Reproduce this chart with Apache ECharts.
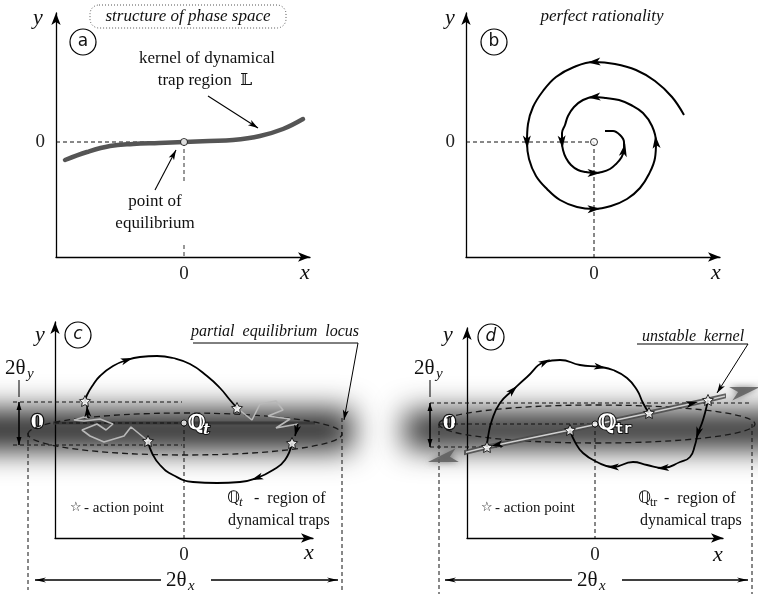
<!DOCTYPE html>
<html>
<head>
<meta charset="utf-8">
<script src="https://cdn.jsdelivr.net/npm/echarts@6.0.0/dist/echarts.min.js"></script>
<style>
html,body{margin:0;padding:0;background:#fff;}
#chart{width:758px;height:594px;}
</style>
</head>
<body>
<div id="chart"></div>
<script>
// ---------------- tick labels ----------------
const tickValues = [0];
const tickLabels = ['0'];

// ---------------- panel (a) structure of phase space ----------------
const aKernelX = [-119,-97,-74,-51,-25,0,25,49,76,99,119];
const aKernelY = [-18,-10,-4,-2,-1,0,1,2,6,13,23];
const aEquilibriumX = [0];
const aEquilibriumY = [0];
const aGuideBlack = [[-128,0,0,0]];
const aGuideGray = [[0,0,0,-41],[0,-103,0,-115]];
const aPointers = [[74,14,24,46],[-8,-8,-29,-48]]; // tipX, tipY, fromX, fromY

// ---------------- panel (b) perfect rationality ----------------
const bSpiralX = [90,78,61,42,21,0,-20,-38,-51,-61,-66,-67,-65,-58,-47,-34,-17,0,17,33,46,55,61,62,
  58,49,37,25,12,0,-11,-20,-26,-29,-32,-32,-31,-28,-23,-16,-8,0,8,16,22,27,30,30,26,19,11];
const bSpiralY = [27,45,61,72,78,80,75,65,51,35,18,0,-17,-34,-47,-58,-65,-67,-64,-57,-46,-32,-16,0,
  16,29,37,42,44,45,42,35,26,17,9,0,-8,-16,-23,-28,-30,-31,-30,-27,-22,-16,-8,0,7,11,11];
const bArrowIdx = [5,11,17,23,29,35,41,46];
const bEquilibriumX = [0];
const bEquilibriumY = [0];
const bGuides = [[-128,0,0,0],[0,0,0,-115]];

// ---------------- panel (c) region of dynamical traps Qt ----------------
const cBand = [[-234,168,-7,20]];            // x0, x1, yCenter, halfHeight
const cEllipse = [[1,-11,157,21]];           // cx, cy, rx, ry
const cLocusX = [-157,173];
const cLocusY = [0,0];
const cUpperX = [-99,-97,-91,-84,-71,-57,-44,-27,-11,6,23,36,46,53];
const cUpperY = [22,28,38,47,57,63,66,67,65,59,47,35,23,15];
const cUpperArrowIdx = [5];
const cLowerX = [108,101,89,73,56,33,9,-11,-24,-32,-36];
const cLowerY = [-20,-37,-47,-55,-59,-60,-59,-52,-42,-30,-18];
const cLowerArrowIdx = [3];
const cWiggleLX = [-36,-53,-60,-80,-94,-102,-87,-78,-71,-84,-100,-110,-100,-96];
const cWiggleLY = [-18,-4,-13,-19,-13,-7,-1,-7,-1,4,2,3,6,5];
const cWiggleRX = [53,68,76,92,99,84,106,92,114];
const cWiggleRY = [15,3,19,22,13,7,4,-5,-1];
const cShortArrows = [[-97,17,-96,5],[111,-13,114,-1]];
const cStarsX = [-99,53,-36,108];
const cStarsY = [22,15,-18,-20];
const cCenterX = [0];
const cCenterY = [0];
const cDashed = [[-129,0,0,0],[-171,21,-2,21],[-171,-22,-2,-22],[0,0,0,-115],[-156,-10,-156,-167],[158,5,158,-167]];
const cDimY = [[-165,21,-165,-22],[-165,-22,-165,21]];
const cDimYTick = [[-165,26,-165,43]];
const cDimX = [[154,-157,-149,-157],[-149,-157,154,-157]];
const cNote = [[9,80,174,80]];
const cNoteArrow = [[160,3,174,80]];

// ---------------- panel (d) region of dynamical traps Qtr ----------------
const dBand = [[-190,205,-6,18]];
const dEllipse = [[2,0,158,19]];
const dKernelX = [-160,-108,-25,54,113,160];
const dKernelY = [-36,-23,-6,11,24,35];
const dKernelEnds = [[-167,-38,-108,-24],[165,37,113,25]];
const dKernelArrows = [[-104,-22,-25,-6],[103,22,54,11]];
const dUpperX = [-108,-107,-103,-95,-82,-68,-50,-35,-15,5,18,32,42,48,54];
const dUpperY = [-23,-13,4,21,34,47,62,64,59,57,54,46,34,21,11];
const dUpperArrowIdx = [4,6,9];
const dLowerX = [113,110,107,103,100,95,85,68,52,38,18,2,-12,-20,-25];
const dLowerY = [24,11,1,-9,-21,-33,-38,-44,-41,-38,-43,-38,-29,-18,-6];
const dLowerArrowIdx = [3,7,10];
const dStarsX = [-108,-25,54,113];
const dStarsY = [-23,-6,11,24];
const dCenterX = [0];
const dCenterY = [0];
const dDashed = [[-155,0,0,0],[-165,21,155,21],[-165,-23,-93,-23],[0,0,0,-114],[-156,0,-156,-170],[157,0,157,-170]];
const dDimY = [[-165,21,-165,-23],[-165,-23,-165,21]];
const dDimYTick = [[-165,27,-165,44]];
const dDimX = [[153,-156,-150,-156],[-150,-156,153,-156]];
const dNote = [[42,80,153,80]];
const dNoteArrow = [[122,31,153,80]];

// ---------------- helpers ----------------
const zip = (xs, ys) => xs.map((x, i) => [x, ys[i]]);
const STAR = 'path://M0,-10L2.9,-4L9.5,-3.1L4.7,1.5L5.9,8.1L0,5L-5.9,8.1L-4.7,1.5L-9.5,-3.1L-2.9,-4Z';

function lineS(gi, xs, ys, style, smooth, z) {
  return { type: 'line', xAxisIndex: gi, yAxisIndex: gi, data: zip(xs, ys), symbol: 'none', showSymbol: false,
    smooth: smooth || false, clip: false, silent: true, z: z == null ? 3 : z, lineStyle: style };
}
function segS(gi, segs, style, z) {
  return { type: 'custom', coordinateSystem: 'cartesian2d', xAxisIndex: gi, yAxisIndex: gi, clip: false, silent: true,
    z: z == null ? 2 : z, data: segs,
    renderItem(p, api) {
      const a = api.coord([api.value(0), api.value(1)]), b = api.coord([api.value(2), api.value(3)]);
      return { type: 'line', shape: { x1: a[0], y1: a[1], x2: b[0], y2: b[1] },
        style: Object.assign({ stroke: '#000', lineWidth: 1, fill: null }, style) };
    } };
}
// arrowheads; data: [x, y, prevX, prevY, nextX, nextY]; anchor 'tip' puts the tip at (x,y)
function arrowS(gi, data, opt) {
  opt = opt || {};
  return { type: 'custom', coordinateSystem: 'cartesian2d', xAxisIndex: gi, yAxisIndex: gi, clip: false, silent: true,
    z: opt.z || 6, data,
    renderItem(p, api) {
      const c = api.coord([api.value(0), api.value(1)]);
      const a = api.coord([api.value(2), api.value(3)]);
      const b = api.coord([api.value(4), api.value(5)]);
      let dx = b[0] - a[0], dy = b[1] - a[1];
      const n = Math.hypot(dx, dy) || 1; dx /= n; dy /= n;
      const L = opt.len || 11, W = opt.wid || 7;
      let cx = c[0], cy = c[1];
      if (opt.anchor === 'tip') { cx -= dx * L / 2; cy -= dy * L / 2; }
      const nx = -dy, ny = dx;
      const bx = cx - dx * L / 2, by = cy - dy * L / 2;
      const notch = opt.notch == null ? 0.25 : opt.notch;
      return { type: 'polygon', shape: { points: [
          [cx + dx * L / 2, cy + dy * L / 2],
          [bx + nx * W / 2, by + ny * W / 2],
          [bx + dx * L * notch, by + dy * L * notch],
          [bx - nx * W / 2, by - ny * W / 2]] },
        style: { fill: opt.color || '#000', shadowBlur: opt.blur || 0, shadowColor: opt.color || '#000' } };
    } };
}
const curveArrows = (xs, ys, idx) => idx.map(i => [xs[i], ys[i], xs[i - 1], ys[i - 1], xs[i + 1], ys[i + 1]]);
const tipArrows = segs => segs.map(s => [s[0], s[1], s[2], s[3], s[0], s[1]]);

function starS(gi, xs, ys) {
  return { type: 'scatter', xAxisIndex: gi, yAxisIndex: gi, data: zip(xs, ys), symbol: STAR, symbolSize: 11,
    clip: false, silent: true, z: 8, itemStyle: { color: '#fff', borderColor: '#000', borderWidth: 1 } };
}
function dotS(gi, xs, ys, size) {
  return { type: 'scatter', xAxisIndex: gi, yAxisIndex: gi, data: zip(xs, ys), symbol: 'circle', symbolSize: size || 7,
    clip: false, silent: true, z: 8, itemStyle: { color: '#fff', borderColor: '#000', borderWidth: 1 } };
}
function ellipseS(gi, data) {
  return { type: 'custom', coordinateSystem: 'cartesian2d', xAxisIndex: gi, yAxisIndex: gi, clip: false, silent: true, z: 2, data,
    renderItem(p, api) {
      const c = api.coord([api.value(0), api.value(1)]);
      const s = api.size([api.value(2), api.value(3)]);
      return { type: 'ellipse', shape: { cx: c[0], cy: c[1], rx: s[0], ry: s[1] },
        style: { fill: null, stroke: '#1a1a1a', lineWidth: 1.3, lineDash: [6, 4] } };
    } };
}
function bandS(gi, data, color, blur) {
  const OFF = 3000;
  return { type: 'custom', coordinateSystem: 'cartesian2d', xAxisIndex: gi, yAxisIndex: gi, clip: false, silent: true, z: -5, data,
    renderItem(p, api) {
      const a = api.coord([api.value(0), api.value(2) + api.value(3)]);
      const b = api.coord([api.value(1), api.value(2) - api.value(3)]);
      return { type: 'rect', shape: { x: a[0] + OFF, y: a[1], width: b[0] - a[0], height: b[1] - a[1] },
        style: { fill: '#000', shadowBlur: blur, shadowColor: color, shadowOffsetX: -OFF } };
    } };
}

function axes(gi, xr, yr, yLabel) {
  const line = { show: true, onZero: false, symbol: ['none', 'arrow'], symbolSize: [7, 12], lineStyle: { color: '#000', width: 1.3 } };
  const fmt = v => { const k = tickValues.indexOf(v); return k < 0 ? '' : tickLabels[k]; };
  const baseLabel = { show: true, customValues: tickValues, formatter: fmt, fontFamily: '"Liberation Serif", serif', fontSize: 19, color: '#222' };
  return {
    x: { type: 'value', gridIndex: gi, min: xr[0], max: xr[1], interval: -xr[0], position: 'bottom', axisLine: line,
      axisTick: { show: false }, splitLine: { show: false }, axisLabel: Object.assign({}, baseLabel, { margin: 8 }) },
    y: { type: 'value', gridIndex: gi, min: yr[0], max: yr[1], interval: -yr[0], position: 'left', axisLine: line,
      axisTick: { show: false }, splitLine: { show: false }, axisLabel: Object.assign({}, baseLabel, { margin: 11 }, yLabel || {}) }
  };
}
const whiteZero = { color: '#fff', fontWeight: 'bold', fontFamily: '"DejaVu Serif", serif', fontSize: 19, textBorderColor: '#111', textBorderWidth: 2.5 };
const A = axes(0, [-128, 126], [-115, 129]);
const B = axes(1, [-128, 126], [-115, 129]);
const C = axes(2, [-129, 129], [-115, 101], whiteZero);
const D = axes(3, [-128, 128], [-114, 96], whiteZero);

// ---------------- text (graphic) ----------------
const SERIF = '"Liberation Serif", "DejaVu Serif", serif';
function T(x, y, text, font, o) {
  o = o || {};
  const st = Object.assign({ text, font, fill: '#111', align: 'center', verticalAlign: 'middle' }, o);
  st.textAlign = st.align; st.textVerticalAlign = st.verticalAlign;
  return { type: 'text', x, y, z: 100, silent: true, style: st };
}
function circ(x, y, letter, italic) {
  return [{ type: 'circle', z: 100, silent: true, shape: { cx: x, cy: y, r: 13 }, style: { fill: 'rgba(0,0,0,0)', stroke: '#000', lineWidth: 1.2 } },
    T(x, y, letter, (italic ? 'italic ' : '') + '17px "DejaVu Sans", sans-serif')];
}
function whiteBox(x, y, w, h) {
  return { type: 'rect', z: 99, silent: true, shape: { x, y, width: w, height: h }, style: { fill: '#fff' } };
}
const outlined = { fill: '#fff', stroke: '#111', lineWidth: 2, strokeFirst: true };
const mathI = 'italic 22px ' + SERIF;
const graphics = [].concat(
  // panel a
  [{ type: 'rect', z: 100, silent: true, shape: { x: 90, y: 5, width: 196, height: 23, r: 9 }, style: { fill: 'rgba(0,0,0,0)', stroke: '#555', lineWidth: 1, lineDash: [1, 2] } }],
  [T(188, 17, 'structure of phase space', 'italic 17px ' + SERIF)],
  circ(83, 42, 'a'),
  [T(38, 18, 'y', mathI), T(305, 273, 'x', mathI)],
  [T(207, 59, 'kernel of dynamical', '17px ' + SERIF), T(205, 81, 'trap region  𝕃', '17px ' + SERIF)],
  [T(155, 202, 'point of', '17px ' + SERIF), T(155, 224, 'equilibrium', '17px ' + SERIF)],
  // panel b
  [T(602, 17, 'perfect rationality', 'italic 17px ' + SERIF)],
  circ(494, 42, 'b'),
  [T(450, 18, 'y', mathI), T(716, 273, 'x', mathI)],
  // panel c
  circ(78, 335, 'c', true),
  [T(40, 335, 'y', mathI), T(309, 553, 'x', mathI)],
  [T(275, 332, 'partial  equilibrium  locus', 'italic 16px ' + SERIF)],
  [T(5, 368, '2θ', '21px ' + SERIF, { align: 'left' }), T(27, 374, 'y', 'italic 15px ' + SERIF, { align: 'left' })],
  [T(70, 508, '☆', '13px "DejaVu Sans"', { align: 'left' }), T(84, 508, '- action point', '15px ' + SERIF, { align: 'left' })],
  [T(227, 499, 'ℚ', '17px "DejaVu Sans"', { align: 'left' }), T(239, 503, 't', 'italic 13px ' + SERIF, { align: 'left' }),
   T(254, 499, '-  region of', '16px ' + SERIF, { align: 'left' }), T(228, 521, 'dynamical traps', '16px ' + SERIF, { align: 'left' })],
  [T(188, 424, 'ℚ', 'bold 20px "DejaVu Serif"', Object.assign({ align: 'left' }, outlined)),
   T(203, 430, 't', 'bold italic 15px "DejaVu Serif"', Object.assign({ align: 'left' }, outlined))],
  [whiteBox(161, 570, 50, 20), T(166, 580, '2θ', '21px ' + SERIF, { align: 'left' }), T(188, 586, 'x', 'italic 15px ' + SERIF, { align: 'left' })],
  // panel d
  circ(491, 337, 'd', true),
  [T(448, 335, 'y', mathI), T(718, 555, 'x', mathI)],
  [T(693, 337, 'unstable  kernel', 'italic 16px ' + SERIF)],
  [T(414, 368, '2θ', '21px ' + SERIF, { align: 'left' }), T(436, 374, 'y', 'italic 15px ' + SERIF, { align: 'left' })],
  [T(481, 508, '☆', '13px "DejaVu Sans"', { align: 'left' }), T(495, 508, '- action point', '15px ' + SERIF, { align: 'left' })],
  [T(638, 499, 'ℚ', '17px "DejaVu Sans"', { align: 'left' }), T(650, 503, 'tr', '12px ' + SERIF, { align: 'left' }),
   T(664, 499, '-  region of', '16px ' + SERIF, { align: 'left' }), T(640, 521, 'dynamical traps', '16px ' + SERIF, { align: 'left' })],
  [T(598, 424, 'ℚ', 'bold 21px "DejaVu Serif"', Object.assign({ align: 'left' }, outlined)),
   T(615, 429, 'tr', 'bold 14px "DejaVu Sans Mono"', Object.assign({ align: 'left' }, outlined))],
  [whiteBox(572, 570, 50, 20), T(577, 580, '2θ', '21px ' + SERIF, { align: 'left' }), T(599, 586, 'x', 'italic 15px ' + SERIF, { align: 'left' })]
);

const dash = { stroke: '#111', lineWidth: 1, lineDash: [4, 3] };
const series = [
  // ----- a -----
  lineS(0, aKernelX, aKernelY, { color: '#555', width: 4.5, cap: 'round' }, 0.4),
  segS(0, aGuideBlack, dash),
  segS(0, aGuideGray, { stroke: '#777', lineWidth: 1.5, lineDash: [4, 3] }),
  segS(0, aPointers, { stroke: '#000', lineWidth: 1.1 }),
  arrowS(0, tipArrows(aPointers), { anchor: 'tip', len: 10, wid: 6 }),
  dotS(0, aEquilibriumX, aEquilibriumY, 7),
  // ----- b -----
  segS(1, bGuides, dash),
  lineS(1, bSpiralX, bSpiralY, { color: '#000', width: 2 }, 0.4),
  arrowS(1, curveArrows(bSpiralX, bSpiralY, bArrowIdx), { len: 13, wid: 8 }),
  dotS(1, bEquilibriumX, bEquilibriumY, 7),
  // ----- c -----
  bandS(2, cBand, 'rgba(38,38,38,1)', 30),
  lineS(2, cLocusX, cLocusY, { color: '#3a3a3a', width: 3 }, false, 1),
  ellipseS(2, cEllipse),
  segS(2, cDashed, dash),
  segS(2, cDimY, { stroke: '#000', lineWidth: 1 }),
  arrowS(2, tipArrows(cDimY), { anchor: 'tip', len: 8, wid: 5, notch: 0 }),
  segS(2, cDimYTick, { stroke: '#000', lineWidth: 1 }),
  segS(2, cDimX, { stroke: '#000', lineWidth: 1 }),
  arrowS(2, tipArrows(cDimX), { anchor: 'tip', len: 11, wid: 5, notch: 0.3 }),
  segS(2, cNote, { stroke: '#000', lineWidth: 1 }),
  segS(2, cNoteArrow, { stroke: '#000', lineWidth: 1 }),
  arrowS(2, tipArrows(cNoteArrow), { anchor: 'tip', len: 10, wid: 6 }),
  lineS(2, cWiggleLX, cWiggleLY, { color: '#b8b8b8', width: 1.6 }, false, 3),
  lineS(2, cWiggleRX, cWiggleRY, { color: '#b8b8b8', width: 1.6 }, false, 3),
  lineS(2, cUpperX, cUpperY, { color: '#000', width: 1.8 }, 0.5, 4),
  lineS(2, cLowerX, cLowerY, { color: '#000', width: 1.8 }, 0.5, 4),
  segS(2, cShortArrows, { stroke: '#000', lineWidth: 1.5 }, 4),
  arrowS(2, curveArrows(cUpperX, cUpperY, cUpperArrowIdx).concat(curveArrows(cLowerX, cLowerY, cLowerArrowIdx)), { len: 12, wid: 7 }),
  arrowS(2, tipArrows(cShortArrows), { anchor: 'tip', len: 11, wid: 7 }),
  starS(2, cStarsX, cStarsY),
  dotS(2, cCenterX, cCenterY, 6),
  // ----- d -----
  bandS(3, dBand, 'rgba(38,38,38,1)', 30),
  ellipseS(3, dEllipse),
  segS(3, dDashed, dash),
  segS(3, dDimY, { stroke: '#000', lineWidth: 1 }),
  arrowS(3, tipArrows(dDimY), { anchor: 'tip', len: 8, wid: 5, notch: 0 }),
  segS(3, dDimYTick, { stroke: '#000', lineWidth: 1 }),
  segS(3, dDimX, { stroke: '#000', lineWidth: 1 }),
  arrowS(3, tipArrows(dDimX), { anchor: 'tip', len: 11, wid: 5, notch: 0.3 }),
  segS(3, dNote, { stroke: '#000', lineWidth: 1 }),
  segS(3, dNoteArrow, { stroke: '#000', lineWidth: 1 }),
  arrowS(3, tipArrows(dNoteArrow), { anchor: 'tip', len: 10, wid: 6 }),
  lineS(3, dKernelX, dKernelY, { color: '#4a4a4a', width: 5, opacity: 0.85 }, false, 3),
  lineS(3, dKernelX, dKernelY, { color: '#d0d0d0', width: 1.5 }, false, 3),
  arrowS(3, tipArrows(dKernelEnds), { anchor: 'tip', len: 30, wid: 14, color: 'rgba(95,95,95,0.85)', blur: 6, z: 3 }),
  arrowS(3, tipArrows(dKernelArrows), { anchor: 'tip', len: 12, wid: 7 }),
  lineS(3, dUpperX, dUpperY, { color: '#000', width: 1.8 }, 0.5, 4),
  lineS(3, dLowerX, dLowerY, { color: '#000', width: 1.8 }, 0.5, 4),
  arrowS(3, curveArrows(dUpperX, dUpperY, dUpperArrowIdx).concat(curveArrows(dLowerX, dLowerY, dLowerArrowIdx)), { len: 12, wid: 7 }),
  starS(3, dStarsX, dStarsY),
  dotS(3, dCenterX, dCenterY, 6)
];

const chart = echarts.init(document.getElementById('chart'), null, { renderer: 'canvas', width: 758, height: 594 });
chart.setOption({
  animation: false,
  backgroundColor: '#fff',
  grid: [
    { left: 56, top: 13, width: 254, height: 244, containLabel: false, outerBoundsMode: 'none' },
    { left: 466, top: 13, width: 254, height: 244, containLabel: false, outerBoundsMode: 'none' },
    { left: 55, top: 322, width: 258, height: 216, containLabel: false, outerBoundsMode: 'none' },
    { left: 467, top: 328, width: 256, height: 210, containLabel: false, outerBoundsMode: 'none' }
  ],
  xAxis: [A.x, B.x, C.x, D.x],
  yAxis: [A.y, B.y, C.y, D.y],
  series,
  graphic: graphics
});
</script>
</body>
</html>
